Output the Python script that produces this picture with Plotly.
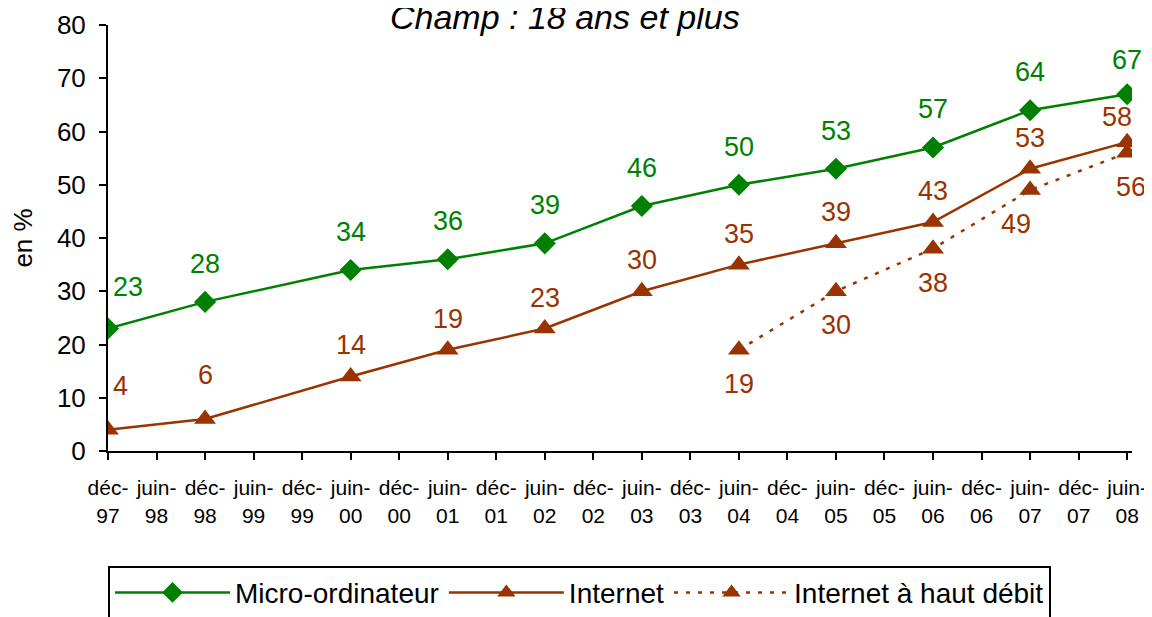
import plotly.graph_objects as go

# Half-year periods on the x axis
periods = ["déc-97", "juin-98", "déc-98", "juin-99", "déc-99", "juin-00", "déc-00",
           "juin-01", "déc-01", "juin-02", "déc-02", "juin-03", "déc-03", "juin-04",
           "déc-04", "juin-05", "déc-05", "juin-06", "déc-06", "juin-07", "déc-07", "juin-08"]

micro_periods = ["déc-97", "déc-98", "juin-00", "juin-01", "juin-02", "juin-03",
                 "juin-04", "juin-05", "juin-06", "juin-07", "juin-08"]
micro_values = [23, 28, 34, 36, 39, 46, 50, 53, 57, 64, 67]

internet_periods = micro_periods
internet_values = [4, 6, 14, 19, 23, 30, 35, 39, 43, 53, 58]

haut_debit_periods = ["juin-04", "juin-05", "juin-06", "juin-07", "juin-08"]
haut_debit_values = [19, 30, 38, 49, 56]

GREEN = "#008000"
BROWN = "#993300"
FONT = "Arial, Liberation Sans, sans-serif"


def idx(labels):
    return [periods.index(p) for p in labels]


tick_text = [p.replace("-", "-<br>") for p in periods]

fig = go.Figure()

fig.add_trace(go.Scatter(
    x=idx(micro_periods), y=micro_values, name="Micro-ordinateur",
    mode="lines+markers",
    line=dict(color=GREEN, width=2.5),
    marker=dict(symbol="diamond", size=17, color=GREEN),
))
fig.add_trace(go.Scatter(
    x=idx(internet_periods), y=internet_values, name="Internet",
    mode="lines+markers",
    line=dict(color=BROWN, width=2.5),
    marker=dict(symbol="triangle-up", size=19, color=BROWN),
))
fig.add_trace(go.Scatter(
    x=idx(haut_debit_periods), y=haut_debit_values, name="Internet à haut débit",
    mode="lines+markers",
    line=dict(color=BROWN, width=2.5, dash="4px,8px"),
    marker=dict(symbol="triangle-up", size=19, color=BROWN),
))

# data labels (micro and internet above, haut debit below)
label_font = dict(family=FONT, size=27)
last = len(micro_values) - 1
for i, (x, y) in enumerate(zip(idx(micro_periods), micro_values)):
    fig.add_annotation(x=x, y=y, text=str(y), showarrow=False,
                       xshift=20 if i == 0 else 0,
                       yshift=42 if i == 0 else (34 if i == last else 38),
                       font=dict(color=GREEN, **label_font))
for i, (x, y) in enumerate(zip(idx(internet_periods), internet_values)):
    fig.add_annotation(x=x, y=y, text=str(y), showarrow=False,
                       xshift=12 if i == 0 else (-10 if i == last else 0),
                       yshift=44 if i < 2 else (25 if i == last else 31),
                       font=dict(color=BROWN, **label_font))
for i, (x, y) in enumerate(zip(idx(haut_debit_periods), haut_debit_values)):
    fig.add_annotation(x=x, y=y, text=str(y), showarrow=False,
                       xshift=-14 if i == 3 else (4 if i == 4 else 0),
                       yshift=-34,
                       font=dict(color=BROWN, **label_font))

fig.add_annotation(
    text="<i>Champ : 18 ans et plus</i>", xref="paper", yref="paper",
    x=0.446, y=1, yanchor="bottom", showarrow=False, yshift=-13,
    font=dict(family=FONT, size=34, color="black"),
)

# the page body adds an 8px offset, margins compensate for it
fig.update_layout(
    width=1152, height=617,
    margin=dict(l=100, r=28, t=17, b=174),
    paper_bgcolor="white", plot_bgcolor="white",
    font=dict(family=FONT, color="black"),
    showlegend=True,
    legend=dict(
        orientation="h", x=0, xanchor="left",
        yref="container", y=0.096, yanchor="top",
        bordercolor="black", borderwidth=2,
        font=dict(family=FONT, size=28),
        itemwidth=115, tracegroupgap=0,
    ),
    xaxis=dict(
        range=[0, 21.1], tickmode="array", tickvals=list(range(len(periods))),
        ticktext=tick_text, showline=True, linecolor="black", linewidth=2,
        ticks="outside", ticklen=7, tickwidth=2, tickcolor="black",
        showgrid=False, zeroline=False, tickfont=dict(size=21), tickangle=0,
        ticklabelstandoff=10, automargin=False,
    ),
    yaxis=dict(
        range=[0, 80], dtick=10, showline=True, linecolor="black", linewidth=2,
        ticks="outside", ticklen=7, tickwidth=2, tickcolor="black",
        showgrid=False, zeroline=False, tickfont=dict(size=26),
        ticklabelstandoff=8, automargin=False,
        title=dict(text="en %", font=dict(size=26), standoff=21),
    ),
)

fig.write_html("out.html")
